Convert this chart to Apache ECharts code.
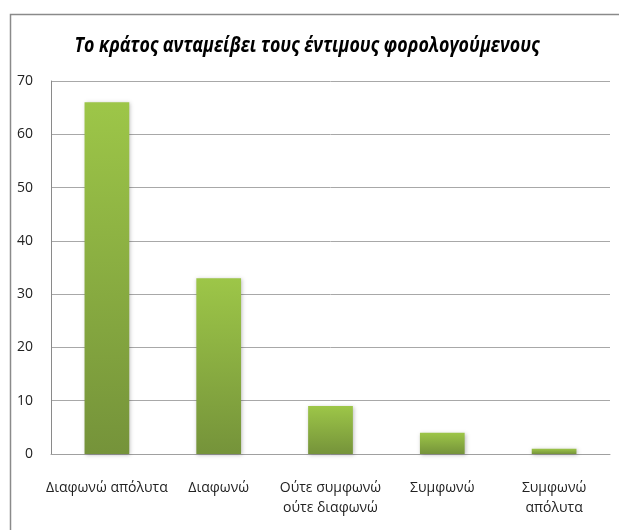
<!DOCTYPE html>
<html><head><meta charset="utf-8">
<script src="https://cdn.jsdelivr.net/npm/echarts@6/dist/echarts.min.js"></script>
<style>html,body{margin:0;padding:0;background:#fff}#c{width:619px;height:530px}</style>
</head><body><div id="c"></div>
<script>
const titleText = 'Το κράτος ανταμείβει τους έντιμους φορολογούμενους';
const categories = ['Διαφωνώ απόλυτα', 'Διαφωνώ', 'Ούτε συμφωνώ\nούτε διαφωνώ', 'Συμφωνώ', 'Συμφωνώ\nαπόλυτα'];
const values = [66, 33, 9, 4, 1];
const yTicks = [0, 10, 20, 30, 40, 50, 60, 70];

const font = '"Open Sans", sans-serif';
const chart = echarts.init(document.getElementById('c'), null, {renderer: 'canvas'});
chart.setOption({
  animation: false,
  graphic: [{
    type: 'rect', left: 8, top: 12, shape: {x: 0, y: 0, width: 700, height: 600},
    style: {fill: 'none', stroke: '#8a8a8a', lineWidth: 1.5}, silent: true, z: -1
  }, {
    type: 'text', x: 307, y: 46, scaleX: 0.81, silent: true,
    style: {
      text: titleText, x: 0, y: 0, align: 'center', verticalAlign: 'middle',
      fill: '#000', font: 'italic bold 22px "Open Sans", sans-serif'
    }
  }],
  grid: {left: 51, right: 9, top: 81, bottom: 76, containLabel: false},
  xAxis: {
    type: 'category', data: categories,
    axisLine: {show: true, lineStyle: {color: '#a0a0a0', width: 1}},
    axisTick: {show: false},
    axisLabel: {color: '#222', fontFamily: font, fontSize: 14, margin: 24, lineHeight: 20, interval: 0}
  },
  yAxis: {
    type: 'value', min: yTicks[0], max: yTicks[yTicks.length - 1], interval: 10,
    axisLine: {show: true, lineStyle: {color: '#8a8a8a', width: 1}},
    axisTick: {show: false},
    axisLabel: {color: '#222', fontFamily: font, fontSize: 14, margin: 18},
    splitLine: {lineStyle: {color: '#a8a8a8', width: 1}}
  },
  series: [{
    type: 'bar', data: values, barWidth: '40%',
    itemStyle: {
      color: new echarts.graphic.LinearGradient(0, 0, 0, 1, [
        {offset: 0, color: '#9dc648'}, {offset: 1, color: '#75933a'}
      ]),
      shadowColor: 'rgba(0,0,0,0.25)', shadowBlur: 4, shadowOffsetX: 1, shadowOffsetY: 1
    }
  }]
});
</script></body></html>
